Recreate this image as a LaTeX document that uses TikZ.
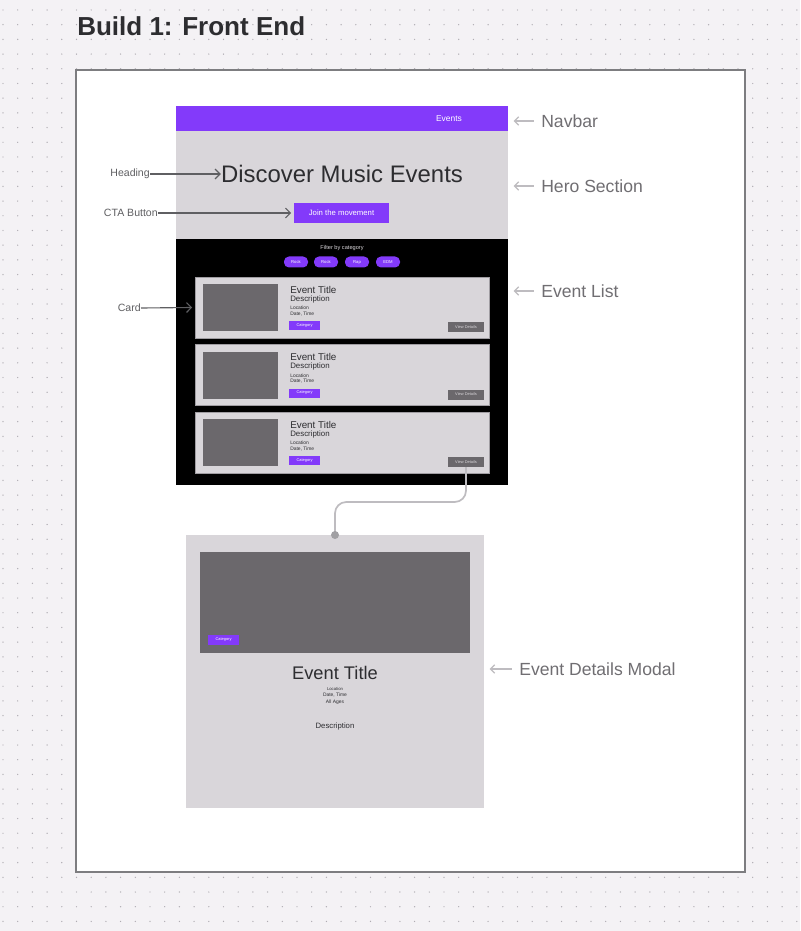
\documentclass[tikz,border=0pt]{standalone}
\usepackage{fontspec}
\setmainfont{Liberation Sans}
\usetikzlibrary{positioning,calc,arrows.meta}

\definecolor{page_bg}{RGB}{244,242,245}
\definecolor{grid_dot}{RGB}{175,172,178}
\definecolor{frame_line}{RGB}{125,125,128}
\definecolor{ui_purple}{RGB}{131,58,250}
\definecolor{ui_light}{RGB}{217,214,218}
\definecolor{ui_dark}{RGB}{107,104,108}
\definecolor{ui_edge}{RGB}{160,157,162}
\definecolor{ui_text}{RGB}{45,45,48}
\definecolor{note_dark}{RGB}{95,95,98}
\definecolor{note_light}{RGB}{112,110,114}
\definecolor{note_arrow}{RGB}{190,188,192}

\newcommand{\uisize}[1]{\fontsize{#1}{#1}\selectfont}

\begin{document}
\begin{tikzpicture}[
    x=0.025cm, y=-0.025cm,
    % Define styles
    wsize/.style 2 args={
        minimum width=#1*0.025cm,
        minimum height=#2*0.025cm
    },
    block/.style={
        rectangle,
        inner sep=0pt,
        outer sep=0pt
    },
    purple_btn/.style={
        block,
        fill=ui_purple,
        text=white
    },
    grey_btn/.style={
        block,
        fill=ui_dark,
        text=ui_light
    },
    ui_label/.style={
        inner sep=0pt,
        text=ui_text
    },
    note_left/.style={
        inner sep=0pt,
        text=note_dark,
        font=\uisize{7.5}
    },
    note_right/.style={
        inner sep=0pt,
        text=note_light,
        font=\uisize{12.5}
    },
    pointer_dark/.style={
        draw=note_dark,
        line width=0.8pt,
        -{Straight Barb[length=3.5pt,width=7pt]}
    },
    pointer_light/.style={
        draw=note_arrow,
        line width=0.9pt,
        -{Straight Barb[length=3pt,width=6pt]}
    },
    link_line/.style={
        draw=note_arrow,
        line width=1.2pt,
        rounded corners=8pt
    }
]

    % --- Canvas with dot grid ---
    \useasboundingbox (0,0) rectangle (800,931);
    \fill[page_bg] (0,0) rectangle (800,931);
    \foreach \gx in {3,17.7,...,800} {
        \foreach \gy in {10,24.7,...,931} {
            \fill[grid_dot] (\gx,\gy) circle (0.7);
        }
    }

    % Title
    \node[anchor=west, inner sep=0pt, text=ui_text, font=\bfseries\uisize{18.5}] (title) at (77,26) {Build 1: Front End};

    % Frame
    \node[block, wsize={669}{802}, fill=white, draw=frame_line, line width=1.1pt] (frame) at (410.5,471) {};

    % --- Page mockup ---
    \node[block, wsize={332}{25}, fill=ui_purple] (navbar) at (342,118.5) {};
    \node[inner sep=0pt, text=white, font=\uisize{6}] (nav_link) at (449,119) {Events};

    \node[block, wsize={332}{108}, fill=ui_light] (hero) at (342,185) {};
    \node[ui_label, font=\uisize{17}] (heading) at (342,174) {Discover Music Events};
    \node[purple_btn, wsize={95}{20}, font=\uisize{5.5}] (cta) at (341.5,213) {Join the movement};

    \node[block, wsize={332}{246}, fill=black] (list) at (342,362) {};
    \node[inner sep=0pt, text=ui_light, font=\uisize{4}] (filter) at (342,248) {Filter by category};

    % Filter pills
    \foreach \px/\tag [count=\k] in {296/Rock, 326/Rock, 357/Rap, 388/EDM} {
        \node[purple_btn, wsize={24}{11}, rounded corners=3.5pt, font=\uisize{3}] (pill\k) at (\px,262) {\tag};
    }

    % Cards
    \foreach \i in {0,1,2} {
        \pgfmathsetmacro{\dy}{67.5*\i}
        \node[block, wsize={294}{61}, fill=ui_light, draw=ui_edge, line width=0.5pt] (card\i) at (342,307.5+\dy) {};
        \node[block, wsize={75}{47}, fill=ui_dark] (thumb\i) at (240.5,307.5+\dy) {};
        \node[ui_label, anchor=west, font=\uisize{7}] (ctitle\i) at (290,289.5+\dy) {Event Title};
        \node[ui_label, anchor=west, font=\uisize{5.6}] (cdesc\i) at (290,299+\dy) {Description};
        \node[ui_label, anchor=west, font=\uisize{3.5}] (cloc\i) at (290,308+\dy) {Location};
        \node[ui_label, anchor=west, font=\uisize{3.5}] (cdate\i) at (290,314+\dy) {Date, Time};
        \node[purple_btn, wsize={31}{9}, font=\uisize{2.8}] (ccat\i) at (304.5,325.5+\dy) {Category};
        \node[grey_btn, wsize={36}{10}, font=\uisize{2.8}] (view\i) at (466,327+\dy) {View Details};
    }

    % --- Event details modal ---
    \node[block, wsize={298}{273}, fill=ui_light] (modal) at (335,671.5) {};
    \node[block, wsize={270}{101}, fill=ui_dark] (hero_img) at (335,602.5) {};
    \node[purple_btn, wsize={31}{10}, font=\uisize{2.8}] (mcat) at (223.5,640) {Category};
    \node[ui_label, font=\uisize{13}] (mtitle) at (335,673) {Event Title};
    \node[ui_label, font=\uisize{3}] (mloc) at (335,689) {Location};
    \node[ui_label, font=\uisize{3.5}] (mdate) at (335,695.5) {Date, Time};
    \node[ui_label, font=\uisize{3.5}] (mages) at (335,702) {All Ages};
    \node[ui_label, font=\uisize{5.5}] (mdesc) at (335,726) {Description};

    % Link from last card to modal
    \coordinate (link_bend) at (335,502);
    \draw[link_line] (view2.south) |- (link_bend) -- (modal.north);
    \fill[note_arrow!85!black] (modal.north) circle (4);

    % --- Left notes ---
    \node[note_left, anchor=east] (n_heading) at (150,174) {Heading};
    \node[note_left, anchor=east] (n_cta) at (158,213) {CTA Button};
    \node[note_left, anchor=east] (n_card) at (141,308) {Card};

    \draw[pointer_dark] (n_heading.east) -- (heading.west);
    \draw[pointer_dark] (n_cta.east) -- ([xshift=-2]cta.west);
    \draw[pointer_dark] (n_card.east) -- ([xshift=-2]card0.west);

    % --- Right notes ---
    \node[note_right, anchor=west] (n_navbar) at (541,121) {Navbar};
    \node[note_right, anchor=west] (n_hero) at (541,186) {Hero Section};
    \node[note_right, anchor=west] (n_list) at (541,291) {Event List};
    \node[note_right, anchor=west] (n_modal) at (519,669) {Event Details Modal};

    \draw[pointer_light, shorten <=5, shorten >=4] (n_navbar.west) -- (n_navbar.west -| navbar.east);
    \draw[pointer_light, shorten <=5, shorten >=4] (n_hero.west) -- (n_hero.west -| hero.east);
    \draw[pointer_light, shorten <=5, shorten >=4] (n_list.west) -- (n_list.west -| list.east);
    \draw[pointer_light, shorten <=5, shorten >=4] (n_modal.west) -- (n_modal.west -| modal.east);

\end{tikzpicture}
\end{document}
